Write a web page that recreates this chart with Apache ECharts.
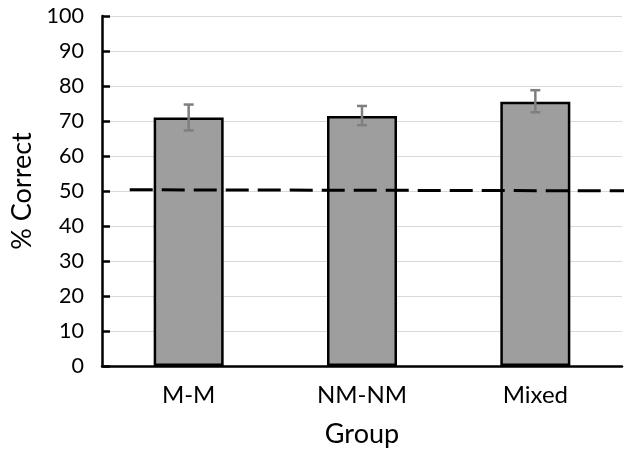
<!DOCTYPE html>
<html>
<head>
<meta charset="utf-8">
<script src="https://cdn.jsdelivr.net/npm/echarts@6/dist/echarts.min.js"></script>
<style>html,body{margin:0;padding:0;background:#fff;}#c{width:631px;height:450px;}</style>
</head>
<body>
<div id="c"></div>
<script>
var categories = ['M-M', 'NM-NM', 'Mixed'];
var values = [71.0, 71.4, 75.5];
var errLow = [67.3, 68.8, 72.5];
var errHigh = [74.7, 74.3, 78.8];
var yTicks = [0, 10, 20, 30, 40, 50, 60, 70, 80, 90, 100];
var refLineX = [0.16, 3.05];
var refLineY = [50.35, 50.05];

var FONT = 'Lato';
var chart = echarts.init(document.getElementById('c'));
chart.setOption({
  animation: false,
  grid: { left: 102, right: 9, top: 16, bottom: 84, containLabel: false, outerBoundsMode: 'none' },
  xAxis: [{
    type: 'category', data: categories,
    name: 'Group', nameLocation: 'middle', nameGap: 55,
    nameTextStyle: { fontFamily: FONT, fontSize: 27, color: '#000' },
    axisLine: { lineStyle: { color: '#000', width: 2.5 } },
    axisTick: { show: false },
    axisLabel: { fontFamily: FONT, fontSize: 24, color: '#000', margin: 17 }
  }, {
    type: 'value', min: 0, max: 3, show: false
  }],
  yAxis: {
    type: 'value', min: yTicks[0], max: yTicks[yTicks.length - 1], interval: 10,
    name: '% Correct', nameLocation: 'middle', nameGap: 62,
    nameTextStyle: { fontFamily: FONT, fontSize: 27, color: '#000' },
    axisLine: { show: true, lineStyle: { color: '#000', width: 2.5 } },
    axisTick: { show: true, inside: true, length: 8, lineStyle: { color: '#000', width: 2.5 } },
    axisLabel: { fontFamily: FONT, fontSize: 21.5, color: '#000', margin: 18 },
    splitLine: { lineStyle: { color: '#d9d9d9', width: 1 } }
  },
  series: [{
    type: 'bar', data: values, barWidth: 70,
    itemStyle: { color: '#9e9e9e', borderColor: '#000', borderWidth: 2.5 },
    z: 2
  }, {
    type: 'custom', z: 4,
    data: categories.map(function (c, i) { return [i, errLow[i], errHigh[i]]; }),
    renderItem: function (params, api) {
      var lo = api.coord([api.value(0), api.value(1)]);
      var hi = api.coord([api.value(0), api.value(2)]);
      var hw = 5;
      var st = { stroke: '#7f7f7f', lineWidth: 2.5 };
      return { type: 'group', children: [
        { type: 'line', shape: { x1: lo[0], y1: lo[1], x2: hi[0], y2: hi[1] }, style: st },
        { type: 'line', shape: { x1: lo[0] - hw, y1: lo[1], x2: lo[0] + hw, y2: lo[1] }, style: st },
        { type: 'line', shape: { x1: hi[0] - hw, y1: hi[1], x2: hi[0] + hw, y2: hi[1] }, style: st }
      ]};
    }
  }, {
    type: 'line', xAxisIndex: 1, clip: false, z: 5, symbol: 'none',
    data: refLineX.map(function (x, i) { return [x, refLineY[i]]; }),
    lineStyle: { color: '#000', width: 3, type: [23, 9] }
  }]
});
</script>
</body>
</html>
